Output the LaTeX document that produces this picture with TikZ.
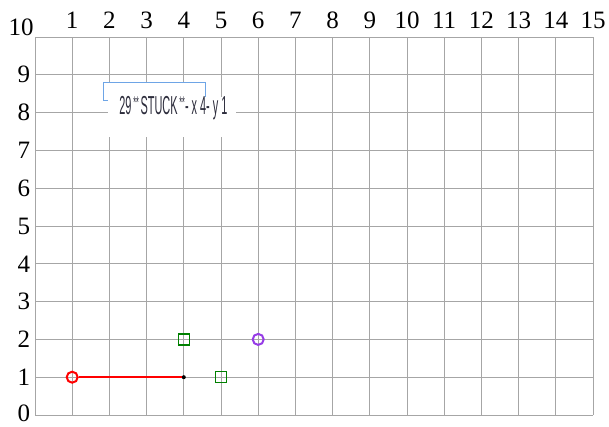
\documentclass[tikz,border=0pt]{standalone}
\usepackage{fontspec}
\setmainfont{Liberation Serif}
\newfontfamily\etiq{Liberation Sans}
\definecolor{mauve}{RGB}{150,60,230}
\definecolor{cadre}{RGB}{110,165,230}
\definecolor{encre}{RGB}{45,45,60}
\begin{document}
\begin{tikzpicture}[x=37.2pt,y=37.8pt]
\tikzstyle{quad} = [draw=black!35,line width=0.8pt] %quadrillage
\tikzstyle{num} = [font=\fontsize{25}{25}\selectfont,inner sep=0pt]
\tikzstyle{rond} = [circle,line width=2pt,minimum size=11pt,inner sep=0pt]
\tikzstyle{carre} = [rectangle,draw=green!50!black,line width=1.3pt,minimum size=11pt,inner sep=0pt]
\tikzstyle{etiquette} = [font=\etiq\fontsize{26}{26}\selectfont,text=encre,xscale=0.42,inner sep=0pt]

\useasboundingbox (-0.941,-0.317) rectangle (15.43,10.979);

%grille
\foreach \i in {0,...,15} \draw[quad] (\i,0) -- (\i,10);
\foreach \j in {0,...,10} \draw[quad] (0,\j) -- (15,\j);

%graduations
\foreach \i in {1,...,15} \node[num] (X\i) at (\i,10.45) {\i};
\foreach \j in {1,...,9} \node[num] (Y\j) at (-0.3,\j) {\j};
\node[num] (Y0) at (-0.3,0.04) {0};
\node[num] (Y10) at (-0.37,10.25) {10};

%cadre du texte
\draw[draw=cadre,fill=white,line width=0.8pt] (1.83,8.81) rectangle (4.57,8.33);
\fill[white] (1.96,7.36) rectangle (5.4,8.41);
\node[etiquette] (T) at (3.72,8.12) {29\,\raisebox{0.4ex}{\fontsize{17}{17}\selectfont **}\,STUCK\,\raisebox{0.4ex}{\fontsize{17}{17}\selectfont **}- x 4- y 1};

%points
\node[rond,draw=red] (D) at (1,1) {};
\node[circle,fill=black,inner sep=0pt,minimum size=4pt] (F) at (4,1) {};
\draw[red,line width=2.5pt] (D) -- (F);
\node[carre] (C1) at (4,2) {};
\node[carre] (C2) at (5,1) {};
\node[rond,draw=mauve] (P) at (6,2) {};
\end{tikzpicture}
\end{document}
